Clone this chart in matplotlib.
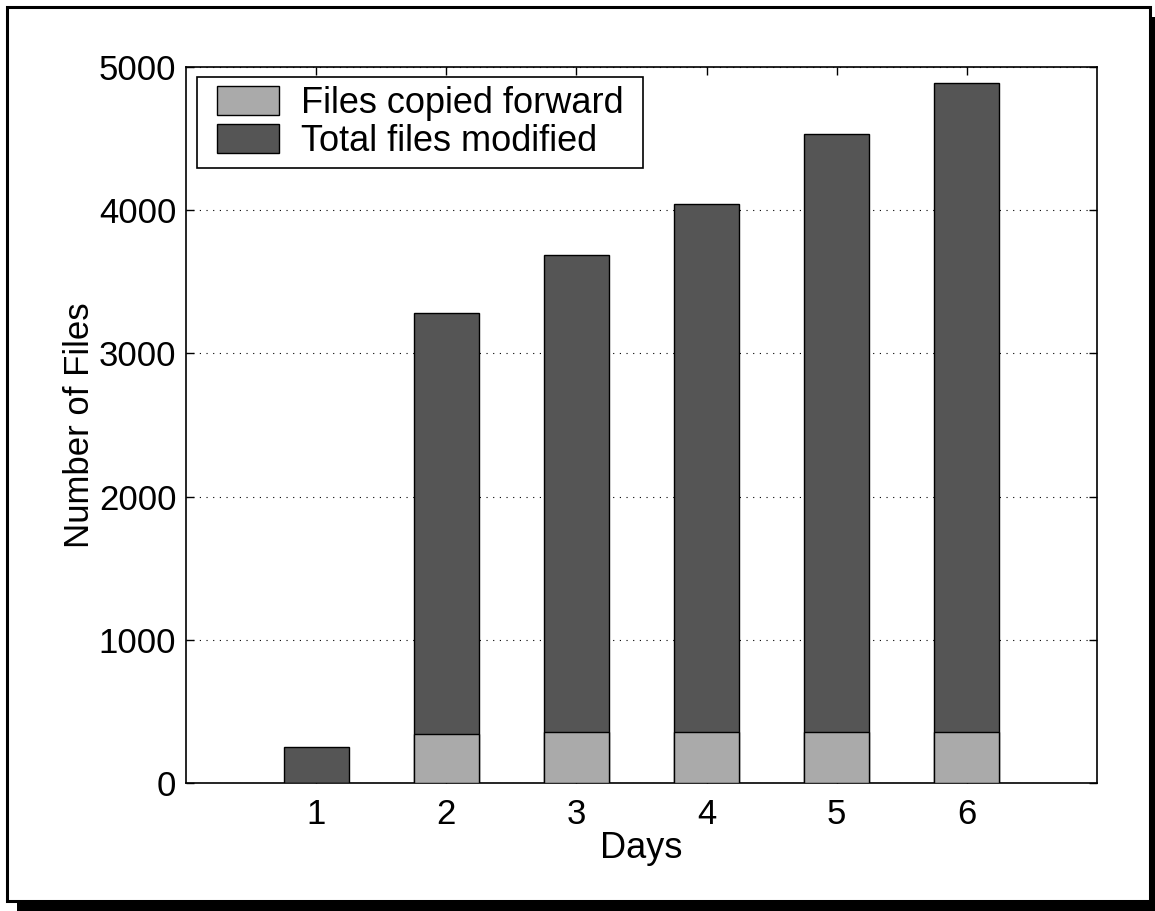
import matplotlib
matplotlib.use("Agg")
import matplotlib.pyplot as plt
from matplotlib.patches import Rectangle

plt.rcParams['font.family'] = ['Liberation Sans', 'DejaVu Sans']

# datos
days = [1, 2, 3, 4, 5, 6]
total_modified = [250, 3282, 3688, 4042, 4530, 4885]
copied_forward = [0, 344, 354, 357, 358, 358]
yticks = [0, 1000, 2000, 3000, 4000, 5000]

fig = plt.figure(figsize=(11.55, 9.11), dpi=100)
W, H = 1155, 911

# marco con sombra
fig.patches.append(Rectangle((17 / W, 0), (1155 - 17) / W, 1 - 902 / H + 0.0,
                             transform=fig.transFigure, facecolor='black',
                             edgecolor='none', zorder=0))
fig.patches.append(Rectangle((1150 / W, 0), 5 / W, 1 - 17 / H,
                             transform=fig.transFigure, facecolor='black',
                             edgecolor='none', zorder=0))
fig.patches.append(Rectangle((7 / W, 1 - 901 / H), (1150 - 7) / W, (901 - 7) / H,
                             transform=fig.transFigure, facecolor='white',
                             edgecolor='black', linewidth=2.2, zorder=1))

ax = fig.add_axes([186 / W, 1 - 783 / H, (1097 - 186) / W, (783 - 67) / H])
ax.set_zorder(2)

ax.bar(days, total_modified, width=0.5, color='#555555', edgecolor='black',
       linewidth=1.0, label='Total files modified', zorder=3)
ax.bar(days, copied_forward, width=0.5, color='#aaaaaa', edgecolor='black',
       linewidth=1.0, label='Files copied forward', zorder=4)

ax.set_xlim(0, 7)
ax.set_ylim(0, 5000)
ax.set_xticks(days)
ax.set_yticks(yticks)
ax.yaxis.grid(True, linestyle=(0, (1, 5)), color='black', linewidth=0.8)
ax.set_axisbelow(True)
ax.tick_params(direction='in', length=6, width=1, top=True, right=True,
               labelsize=25)
ax.tick_params(axis='x', pad=11)
ax.tick_params(axis='y', pad=7)
for s in ax.spines.values():
    s.set_linewidth(1.2)

ax.set_xlabel('Days', fontsize=26, labelpad=0)
ax.set_ylabel('Number of Files', fontsize=25, labelpad=2)

# leyenda sin marco; el marco se dibuja aparte con relleno horizontal mayor
padx, pady = 20, 9
h, l = ax.get_legend_handles_labels()
leg = ax.legend(h[::-1], l[::-1], loc='upper left', fontsize=26,
                bbox_to_anchor=((11 + padx) / 911, 1 - (10 + pady) / 716),
                borderaxespad=0, borderpad=0, frameon=False,
                handlelength=1.72, handleheight=0.86, labelspacing=0.08,
                handletextpad=0.6)
leg.set_zorder(6)

fig.canvas.draw()
bb = leg.get_window_extent().transformed(ax.transAxes.inverted())
fx = padx / 911
fy = pady / 716
box = Rectangle((bb.x0 - fx, bb.y0 - fy), bb.width + 2 * fx, bb.height + 2 * fy,
                transform=ax.transAxes, facecolor='white', edgecolor='black',
                linewidth=1.2, zorder=5)
ax.add_patch(box)

fig.savefig('out.png', dpi=100)
